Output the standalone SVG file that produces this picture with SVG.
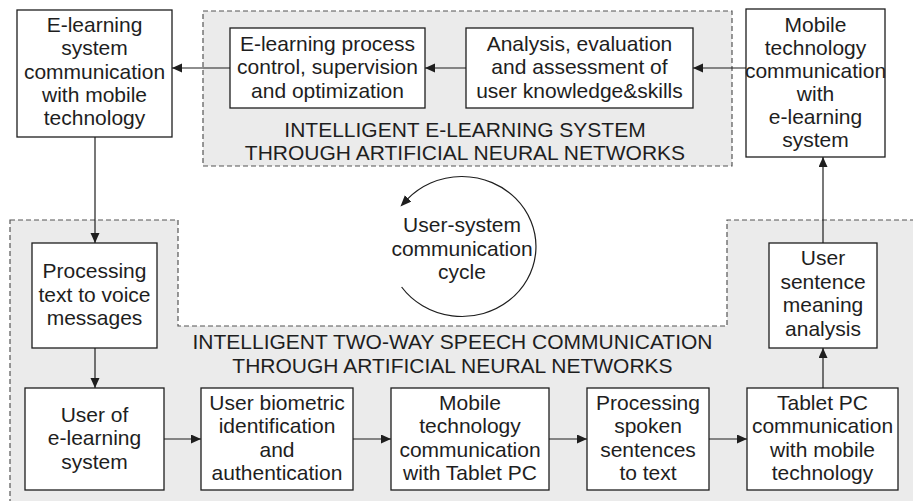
<svg xmlns="http://www.w3.org/2000/svg" width="913" height="501" viewBox="0 0 913 501">
  <style>
    .region { fill: #ebebeb; stroke: #555; stroke-width: 1.2; stroke-dasharray: 5 3; }
    .box rect { fill: #fff; stroke: #1e1e1e; stroke-width: 1.3; }
    text { font-family: "Liberation Sans", Arial, sans-serif; font-size: 21px; fill: #1e1e1e; text-anchor: middle; }
    .conn { stroke: #1e1e1e; stroke-width: 1.2; fill: none; }
  </style>
  <defs>
    <marker id="arrow" markerUnits="userSpaceOnUse" markerWidth="11" markerHeight="10" refX="10" refY="4.5" orient="auto">
      <path d="M0,0 L10,4.5 L0,9 Z" fill="#1e1e1e"/>
    </marker>
    <marker id="arrowOut" markerUnits="userSpaceOnUse" markerWidth="12" markerHeight="10" refX="1" refY="4.5" orient="auto">
      <path d="M0,0 L11,4.5 L0,9 Z" fill="#1e1e1e"/>
    </marker>
  </defs>

  <!-- Background regions -->
  <g id="region-elearning">
    <rect class="region" x="203" y="11" width="529" height="155"/>
    <text x="465" y="136.5">INTELLIGENT E-LEARNING SYSTEM</text>
    <text x="465" y="159.5">THROUGH ARTIFICIAL NEURAL NETWORKS</text>
  </g>
  <g id="region-speech">
    <path class="region" d="M10,220 H178 V326 H727 V220 H920 V510 H10 Z"/>
    <text x="452.5" y="349">INTELLIGENT TWO-WAY SPEECH COMMUNICATION</text>
    <text x="452.5" y="373">THROUGH ARTIFICIAL NEURAL NETWORKS</text>
  </g>

  <!-- Connectors -->
  <g id="connectors">
    <line class="conn" x1="466" y1="68" x2="425" y2="68" marker-end="url(#arrow)"/>
    <line class="conn" x1="230" y1="68" x2="172" y2="68" marker-end="url(#arrow)"/>
    <line class="conn" x1="746" y1="68" x2="693" y2="68" marker-end="url(#arrow)"/>
    <line class="conn" x1="95" y1="137" x2="95" y2="243" marker-end="url(#arrow)"/>
    <line class="conn" x1="95" y1="348" x2="95" y2="388" marker-end="url(#arrow)"/>
    <line class="conn" x1="164" y1="439" x2="201" y2="439" marker-end="url(#arrow)"/>
    <line class="conn" x1="353" y1="439" x2="391" y2="439" marker-end="url(#arrow)"/>
    <line class="conn" x1="549" y1="439" x2="587" y2="439" marker-end="url(#arrow)"/>
    <line class="conn" x1="709" y1="439" x2="747" y2="439" marker-end="url(#arrow)"/>
    <line class="conn" x1="823" y1="388" x2="823" y2="348" marker-end="url(#arrow)"/>
    <line class="conn" x1="823" y1="243" x2="823" y2="157" marker-end="url(#arrow)"/>
  </g>

  <!-- Communication cycle -->
  <g id="cycle">
    <path class="conn" d="M401.6,287 A74,70 0 1 0 407.4,199.2" marker-end="url(#arrowOut)"/>
    <text x="462" y="232">User-system</text>
    <text x="462" y="255.5">communication</text>
    <text x="462" y="278.5">cycle</text>
  </g>

  <!-- Nodes -->
  <g id="elearning-to-mobile" class="box">
    <rect x="17" y="10" width="155" height="127"/>
    <text x="94.5" y="32">E-learning</text>
    <text x="94.5" y="55.3">system</text>
    <text x="94.5" y="78.6">communication</text>
    <text x="94.5" y="101.9">with mobile</text>
    <text x="94.5" y="125.2">technology</text>
  </g>
  <g id="process-control" class="box">
    <rect x="230" y="28" width="195" height="80"/>
    <text x="327.5" y="50.5">E-learning process</text>
    <text x="327.5" y="74">control, supervision</text>
    <text x="327.5" y="97.5">and optimization</text>
  </g>
  <g id="knowledge-analysis" class="box">
    <rect x="466" y="28" width="227" height="80"/>
    <text x="579.5" y="50.5">Analysis, evaluation</text>
    <text x="579.5" y="74">and assessment of</text>
    <text x="579.5" y="97.5">user knowledge&amp;skills</text>
  </g>
  <g id="mobile-to-elearning" class="box">
    <rect x="746" y="9" width="139" height="148"/>
    <text x="815.5" y="31.7">Mobile</text>
    <text x="815.5" y="54.7">technology</text>
    <text x="815.5" y="77.7">communication</text>
    <text x="815.5" y="100.7">with</text>
    <text x="815.5" y="123.7">e-learning</text>
    <text x="815.5" y="146.7">system</text>
  </g>
  <g id="text-to-voice" class="box">
    <rect x="32" y="243" width="125" height="105"/>
    <text x="94.5" y="278.3">Processing</text>
    <text x="94.5" y="301.7">text to voice</text>
    <text x="94.5" y="325">messages</text>
  </g>
  <g id="user" class="box">
    <rect x="25" y="388" width="139" height="102"/>
    <text x="94.5" y="421.7">User of</text>
    <text x="94.5" y="445">e-learning</text>
    <text x="94.5" y="468.5">system</text>
  </g>
  <g id="biometric" class="box">
    <rect x="201" y="388" width="152" height="102"/>
    <text x="277" y="409.5">User biometric</text>
    <text x="277" y="433">identification</text>
    <text x="277" y="456.5">and</text>
    <text x="277" y="480">authentication</text>
  </g>
  <g id="mobile-to-tablet" class="box">
    <rect x="391" y="388" width="158" height="102"/>
    <text x="470" y="409.5">Mobile</text>
    <text x="470" y="433">technology</text>
    <text x="470" y="456.5">communication</text>
    <text x="470" y="480">with Tablet PC</text>
  </g>
  <g id="speech-to-text" class="box">
    <rect x="587" y="388" width="122" height="102"/>
    <text x="648" y="409.5">Processing</text>
    <text x="648" y="433">spoken</text>
    <text x="648" y="456.5">sentences</text>
    <text x="648" y="480">to text</text>
  </g>
  <g id="tablet-to-mobile" class="box">
    <rect x="747" y="388" width="151" height="102"/>
    <text x="822.5" y="409.5">Tablet PC</text>
    <text x="822.5" y="433">communication</text>
    <text x="822.5" y="456.5">with mobile</text>
    <text x="822.5" y="480">technology</text>
  </g>
  <g id="meaning-analysis" class="box">
    <rect x="769" y="243" width="108" height="105"/>
    <text x="823" y="265">User</text>
    <text x="823" y="288.5">sentence</text>
    <text x="823" y="312">meaning</text>
    <text x="823" y="335.5">analysis</text>
  </g>
</svg>
